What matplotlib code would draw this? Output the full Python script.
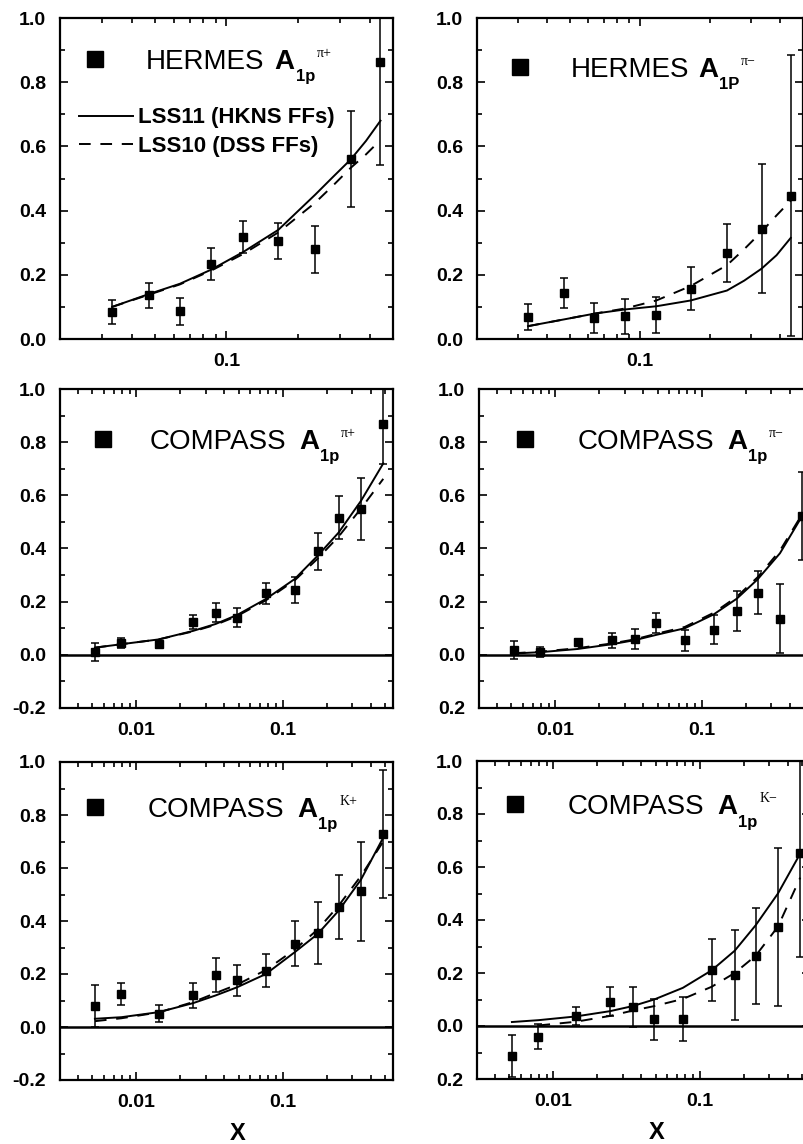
import matplotlib
matplotlib.use("Agg")
import matplotlib.pyplot as plt
from matplotlib.ticker import FixedLocator, FixedFormatter, LogLocator, NullFormatter
from matplotlib.lines import Line2D

plt.rcParams.update({
    "font.family": ["Liberation Sans", "DejaVu Sans"],
    "font.weight": "bold",
})

# ---------------- data ----------------
# HERMES x bins
hermes_x = [0.0331, 0.0472, 0.0637, 0.0862, 0.1175, 0.165, 0.236, 0.332, 0.443]
hermes_curve_x = [0.0331, 0.0472, 0.0637, 0.0862, 0.1175, 0.165, 0.236, 0.28, 0.332, 0.385, 0.443]

# HERMES pi+
hpp_y = [0.083, 0.136, 0.086, 0.234, 0.319, 0.304, 0.280, 0.561, 0.863]
hpp_err = [0.037, 0.040, 0.043, 0.049, 0.050, 0.056, 0.073, 0.150, 0.320]
hpp_lss11 = [0.100, 0.140, 0.172, 0.216, 0.271, 0.340, 0.450, 0.505, 0.559, 0.617, 0.680]
hpp_lss10 = [0.100, 0.138, 0.170, 0.213, 0.265, 0.332, 0.425, 0.478, 0.533, 0.575, 0.620]

# HERMES pi-
hpm_y = [0.068, 0.144, 0.066, 0.071, 0.076, 0.157, 0.268, 0.344, 0.447]
hpm_err = [0.041, 0.046, 0.047, 0.055, 0.056, 0.068, 0.091, 0.200, 0.437]
hpm_lss11 = [0.040, 0.061, 0.079, 0.092, 0.102, 0.120, 0.151, 0.182, 0.219, 0.261, 0.315]
hpm_lss10 = [0.040, 0.061, 0.079, 0.095, 0.120, 0.165, 0.230, 0.280, 0.334, 0.385, 0.431]

# COMPASS x bins
compass_x = [0.0052, 0.0079, 0.0142, 0.0244, 0.0348, 0.0489, 0.0769, 0.121, 0.174, 0.242, 0.344, 0.489]

# COMPASS pi+
cpp_y = [0.010, 0.044, 0.039, 0.123, 0.158, 0.140, 0.231, 0.243, 0.389, 0.516, 0.548, 0.869]
cpp_err = [0.033, 0.020, 0.013, 0.025, 0.036, 0.037, 0.039, 0.048, 0.071, 0.080, 0.117, 0.150]
cpp_lss11 = [0.027, 0.040, 0.058, 0.090, 0.116, 0.150, 0.210, 0.285, 0.373, 0.460, 0.579, 0.720]
cpp_lss10 = [0.027, 0.040, 0.058, 0.088, 0.113, 0.146, 0.205, 0.280, 0.362, 0.445, 0.550, 0.662]

# COMPASS pi-
cpm_y = [0.018, 0.011, 0.048, 0.054, 0.060, 0.120, 0.054, 0.095, 0.165, 0.234, 0.136, 0.523]
cpm_err = [0.033, 0.020, 0.012, 0.028, 0.037, 0.038, 0.040, 0.056, 0.077, 0.081, 0.130, 0.165]
cpm_lss11 = [0.005, 0.010, 0.022, 0.040, 0.055, 0.075, 0.100, 0.152, 0.211, 0.284, 0.382, 0.523]
cpm_lss10 = [0.006, 0.012, 0.025, 0.043, 0.058, 0.079, 0.105, 0.158, 0.218, 0.292, 0.392, 0.530]

# COMPASS K+
ckp_y = [0.079, 0.125, 0.050, 0.119, 0.197, 0.176, 0.213, 0.314, 0.354, 0.452, 0.512, 0.728]
ckp_err = [0.078, 0.042, 0.032, 0.046, 0.064, 0.059, 0.063, 0.085, 0.116, 0.120, 0.188, 0.243]
ckp_lss11 = [0.031, 0.037, 0.056, 0.090, 0.119, 0.150, 0.200, 0.282, 0.351, 0.439, 0.556, 0.715]
ckp_lss10 = [0.022, 0.033, 0.055, 0.094, 0.128, 0.160, 0.215, 0.292, 0.368, 0.458, 0.570, 0.700]

# COMPASS K-
ckm_y = [-0.113, -0.040, 0.038, 0.092, 0.073, 0.025, 0.026, 0.211, 0.192, 0.264, 0.374, 0.654]
ckm_err = [0.080, 0.047, 0.035, 0.055, 0.075, 0.077, 0.083, 0.117, 0.170, 0.180, 0.298, 0.393]
ckm_lss11 = [0.015, 0.022, 0.036, 0.056, 0.075, 0.100, 0.144, 0.210, 0.284, 0.380, 0.500, 0.651]
ckm_lss10_x = [0.0079, 0.0142, 0.0244, 0.0348, 0.0489, 0.0769, 0.121, 0.174, 0.242, 0.344, 0.489]
ckm_lss10 = [0.002, 0.016, 0.038, 0.058, 0.075, 0.102, 0.148, 0.200, 0.265, 0.375, 0.560]

# ticks / labels
y_ticks_top = [0.0, 0.2, 0.4, 0.6, 0.8, 1.0]
y_labels_top = ["0.0", "0.2", "0.4", "0.6", "0.8", "1.0"]
y_ticks_low = [-0.2, 0.0, 0.2, 0.4, 0.6, 0.8, 1.0]
y_labels_low_left = ["-0.2", "0.0", "0.2", "0.4", "0.6", "0.8", "1.0"]
y_labels_low_right = ["0.2", "0.0", "0.2", "0.4", "0.6", "0.8", "1.0"]
x_ticks = [0.01, 0.1]
x_labels = ["0.01", "0.1"]

# panel titles: experiment, asymmetry symbol, subscript, superscript
titles = {
    "hpp": ("HERMES", "A", "1p", "\u03c0+"),
    "hpm": ("HERMES", "A", "1P", "\u03c0\u2212"),
    "cpp": ("COMPASS", "A", "1p", "\u03c0+"),
    "cpm": ("COMPASS", "A", "1p", "\u03c0\u2212"),
    "ckp": ("COMPASS", "A", "1p", "K+"),
    "ckm": ("COMPASS", "A", "1p", "K\u2212"),
}
model_labels = ["LSS11 (HKNS FFs)", "LSS10 (DSS FFs)"]

DASH = (0, (6, 5))

# ---------------- figure ----------------
W, H = 804, 1144
fig = plt.figure(figsize=(W / 100, H / 100), dpi=100)


def px_axes(left, top, width, height):
    return fig.add_axes([left / W, 1 - (top + height) / H, width / W, height / H])


def style(ax, xlim, ylim, yt, yl, show_zero):
    ax.set_xscale("log")
    ax.set_xlim(*xlim)
    ax.set_ylim(*ylim)
    ax.xaxis.set_major_locator(FixedLocator(x_ticks))
    ax.xaxis.set_major_formatter(FixedFormatter(x_labels))
    ax.xaxis.set_minor_locator(LogLocator(base=10, subs=range(2, 10), numticks=20))
    ax.xaxis.set_minor_formatter(NullFormatter())
    ax.yaxis.set_major_locator(FixedLocator(yt))
    ax.yaxis.set_major_formatter(FixedFormatter(yl))
    ax.yaxis.set_minor_locator(FixedLocator([v + 0.1 for v in yt[:-1]]))
    ax.tick_params(which="both", direction="in", top=True, right=True, width=1.2)
    ax.tick_params(which="major", length=6, labelsize=14, pad=10)
    ax.tick_params(which="minor", length=3.5)
    for s in ax.spines.values():
        s.set_linewidth(1.6)
    if show_zero:
        ax.axhline(0, color="k", lw=1.8, zorder=1)


def draw(ax, x, y, err, cx, c11, cx10, c10):
    ax.plot(cx, c11, color="k", lw=1.4, ls="-")
    ax.plot(cx10, c10, color="k", lw=1.4, ls=DASH)
    ax.errorbar(x, y, yerr=err, fmt="s", ms=5.5, color="k", ecolor="k",
                elinewidth=1.1, capsize=3, capthick=1.1, zorder=3)


def marker_legend(ax, key, x0, y0, pad, gap, keep=False):
    name, sym, sub, sup = titles[key]
    h = Line2D([], [], marker="s", ls="none", color="k", ms=12)
    leg = ax.legend([h], [name], loc="center left", bbox_to_anchor=(x0, y0),
                    frameon=False, borderpad=0, borderaxespad=0,
                    handlelength=1.0, handletextpad=pad,
                    prop={"family": "Liberation Sans", "weight": "normal", "size": 20})
    if keep:
        ax.add_artist(leg)
    t = leg.get_texts()[0]
    a = ax.annotate(sym, xy=(1, 0), xycoords=t, xytext=(gap, 0), textcoords="offset points",
                    ha="left", va="bottom", fontsize=20, fontweight="bold", zorder=10)
    s = ax.annotate(sub, xy=(1, 0), xycoords=a, xytext=(1, 4), textcoords="offset points",
                    ha="left", va="top", fontsize=12, fontweight="bold", zorder=10)
    ax.annotate(sup, xy=(1, 1), xycoords=s, xytext=(1, 7), textcoords="offset points",
                ha="left", va="bottom", fontsize=10, family="Liberation Serif",
                fontweight="normal", zorder=10)
    return leg


hermes_xlim = (0.02, 0.5)
compass_xlim = (0.003, 0.57)

# row 1
ax1 = px_axes(60, 18, 333, 321)
style(ax1, hermes_xlim, (0, 1.0), y_ticks_top, y_labels_top, False)
draw(ax1, hermes_x, hpp_y, hpp_err, hermes_curve_x, hpp_lss11, hermes_curve_x, hpp_lss10)
marker_legend(ax1, "hpp", 0.063, 0.863, 1.34, 7, keep=True)
l11 = Line2D([], [], color="k", lw=1.4, ls="-")
l10 = Line2D([], [], color="k", lw=1.4, ls=DASH)
ax1.legend([l11, l10], model_labels, loc="center left",
           bbox_to_anchor=(0.057, 0.645), frameon=False, borderpad=0, borderaxespad=0,
           handlelength=2.43, handletextpad=0.23, labelspacing=0.33,
           prop={"family": "Liberation Sans", "weight": "bold", "size": 16})

ax2 = px_axes(477, 18, 326, 321)
style(ax2, hermes_xlim, (0, 1.0), y_ticks_top, y_labels_top, False)
draw(ax2, hermes_x, hpm_y, hpm_err, hermes_curve_x, hpm_lss11, hermes_curve_x, hpm_lss10)
marker_legend(ax2, "hpm", 0.089, 0.838, 1.34, 6)

# row 2
ax3 = px_axes(60, 389, 333, 319)
style(ax3, compass_xlim, (-0.2, 1.0), y_ticks_low, y_labels_low_left, True)
draw(ax3, compass_x, cpp_y, cpp_err, compass_x, cpp_lss11, compass_x, cpp_lss10)
marker_legend(ax3, "cpp", 0.087, 0.834, 1.19, 9)

ax4 = px_axes(479, 389, 333, 319)
style(ax4, compass_xlim, (-0.2, 1.0), y_ticks_low, y_labels_low_right, True)
draw(ax4, compass_x, cpm_y, cpm_err, compass_x, cpm_lss11, compass_x, cpm_lss10)
marker_legend(ax4, "cpm", 0.096, 0.834, 1.41, 9)

# row 3
ax5 = px_axes(60, 762, 333, 318)
style(ax5, compass_xlim, (-0.2, 1.0), y_ticks_low, y_labels_low_left, True)
draw(ax5, compass_x, ckp_y, ckp_err, compass_x, ckp_lss11, compass_x, ckp_lss10)
marker_legend(ax5, "ckp", 0.063, 0.849, 1.41, 9)
ax5.set_xlabel("X", fontsize=17, fontweight="bold", labelpad=8, x=0.535)

ax6 = px_axes(477, 761, 333, 318)
style(ax6, compass_xlim, (-0.2, 1.0), y_ticks_low, y_labels_low_right, True)
draw(ax6, compass_x, ckm_y, ckm_err, compass_x, ckm_lss11, ckm_lss10_x, ckm_lss10)
marker_legend(ax6, "ckm", 0.072, 0.855, 1.41, 9)
ax6.set_xlabel("X", fontsize=17, fontweight="bold", labelpad=8, x=0.54)

fig.savefig("out.png", dpi=100, facecolor="white")
